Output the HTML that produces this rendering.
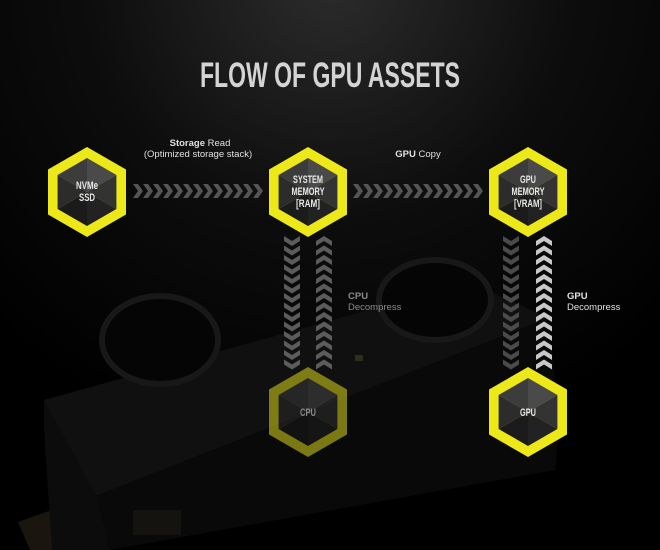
<!DOCTYPE html>
<html><head><meta charset="utf-8"><style>
html,body{margin:0;padding:0;background:#000;}
svg{display:block;}
</style></head><body>
<svg width="660" height="550" viewBox="0 0 660 550" xmlns="http://www.w3.org/2000/svg">
<defs>
<radialGradient id="bg" cx="330" cy="-20" r="480" gradientUnits="userSpaceOnUse">
<stop offset="0" stop-color="#2c2c2c"/><stop offset="0.5" stop-color="#0d0d0d"/><stop offset="1" stop-color="#000"/>
</radialGradient>
<linearGradient id="h1" x1="133" y1="0" x2="263" y2="0" gradientUnits="userSpaceOnUse"><stop offset="0" stop-color="#555"/><stop offset="1" stop-color="#b5b5b5"/></linearGradient>
<linearGradient id="h2" x1="353" y1="0" x2="483" y2="0" gradientUnits="userSpaceOnUse"><stop offset="0" stop-color="#555"/><stop offset="1" stop-color="#b5b5b5"/></linearGradient>
<linearGradient id="vd" x1="0" y1="235" x2="0" y2="367" gradientUnits="userSpaceOnUse"><stop offset="0" stop-color="#4a4a4a"/><stop offset="1" stop-color="#d0d0d0"/></linearGradient>
<linearGradient id="vu" x1="0" y1="235" x2="0" y2="367" gradientUnits="userSpaceOnUse"><stop offset="0" stop-color="#c8c8c8"/><stop offset="1" stop-color="#4a4a4a"/></linearGradient>
<polygon id="ch" points="0,0 5,0 10,7 5,14 0,14 5,7"/>
<polygon id="cd" points="0,0 8,5 16,0 16,5 8,10 0,5"/>
<polygon id="cu" points="0,5 8,0 16,5 16,10 8,5 0,10"/>
<g id="hex">
<polygon points="0,-45 39,-22.5 39,22.5 0,45 -39,22.5 -39,-22.5" fill="#ece81a"/>
<polygon points="0,0 0,-34 29.4,-17" fill="#4a4a4a"/>
<polygon points="0,0 0,-34 -29.4,-17" fill="#3c3c3c"/>
<polygon points="0,0 29.4,-17 29.4,17" fill="#333"/>
<polygon points="0,0 -29.4,-17 -29.4,17" fill="#2c2c2c"/>
<polygon points="0,0 29.4,17 0,34" fill="#222"/>
<polygon points="0,0 -29.4,17 0,34" fill="#1b1b1b"/>
</g>
</defs>
<rect width="660" height="550" fill="url(#bg)"/>

<!-- heatsink silhouette -->
<g>
<polygon points="18,522 80,500 95,550 30,550" fill="#1a160f"/>
<polygon points="44,400 470,282 548,318 96,496" fill="#101010"/>
<polygon points="96,496 548,318 560,420 555,470 110,550" fill="#090909"/>
<polygon points="44,400 96,496 110,550 52,550 44,430" fill="#0c0c0c"/>
<ellipse cx="160" cy="340" rx="58" ry="44" fill="#050505" stroke="#181818" stroke-width="6"/>
<ellipse cx="435" cy="300" rx="56" ry="40" fill="#050505" stroke="#181818" stroke-width="6"/>
<rect x="355" y="355" width="8" height="6" fill="#2e2e1a"/>
<rect x="133" y="510" width="48" height="25" fill="#15130f"/>
</g>

<text x="330" y="87" text-anchor="middle" font-family="'Liberation Sans Narrow','Liberation Sans',sans-serif" font-weight="bold" font-size="35" fill="#d4d4d4" textLength="260" lengthAdjust="spacingAndGlyphs">FLOW OF GPU ASSETS</text>

<g font-family="'Liberation Sans',sans-serif" font-size="9.5" fill="#e0e0e0" text-anchor="middle">
<text x="200" y="146"><tspan font-weight="bold">Storage</tspan> Read</text>
<text x="198" y="157">(Optimized storage stack)</text>
<text x="418" y="157"><tspan font-weight="bold">GPU</tspan> Copy</text>
</g>
<g font-family="'Liberation Sans',sans-serif" font-size="9.5">
<text x="348" y="299" fill="#8a8a8a" font-weight="bold">CPU</text>
<text x="348" y="310" fill="#8a8a8a">Decompress</text>
<text x="567" y="299" fill="#e0e0e0" font-weight="bold">GPU</text>
<text x="567" y="310" fill="#e0e0e0">Decompress</text>
</g>

<!-- horizontal chevrons -->
<g fill="url(#h1)" transform="translate(0,184)">
<use href="#ch" x="133"/><use href="#ch" x="143"/><use href="#ch" x="153"/><use href="#ch" x="163"/><use href="#ch" x="173"/><use href="#ch" x="183"/><use href="#ch" x="193"/><use href="#ch" x="203"/><use href="#ch" x="213"/><use href="#ch" x="223"/><use href="#ch" x="233"/><use href="#ch" x="243"/><use href="#ch" x="253"/>
</g>
<g fill="url(#h2)" transform="translate(0,184)">
<use href="#ch" x="353"/><use href="#ch" x="363"/><use href="#ch" x="373"/><use href="#ch" x="383"/><use href="#ch" x="393"/><use href="#ch" x="403"/><use href="#ch" x="413"/><use href="#ch" x="423"/><use href="#ch" x="433"/><use href="#ch" x="443"/><use href="#ch" x="453"/><use href="#ch" x="463"/><use href="#ch" x="473"/>
</g>

<!-- vertical chevrons -->
<g fill="#6a6a6a" opacity="0.85">
<g transform="translate(284,0)">
<use href="#cd" y="236"/><use href="#cd" y="245.5"/><use href="#cd" y="255"/><use href="#cd" y="264.5"/><use href="#cd" y="274"/><use href="#cd" y="283.5"/><use href="#cd" y="293"/><use href="#cd" y="302.5"/><use href="#cd" y="312"/><use href="#cd" y="321.5"/><use href="#cd" y="331"/><use href="#cd" y="340.5"/><use href="#cd" y="350"/><use href="#cd" y="359.5"/>
</g>
<g transform="translate(316,0)">
<use href="#cu" y="236"/><use href="#cu" y="245.5"/><use href="#cu" y="255"/><use href="#cu" y="264.5"/><use href="#cu" y="274"/><use href="#cu" y="283.5"/><use href="#cu" y="293"/><use href="#cu" y="302.5"/><use href="#cu" y="312"/><use href="#cu" y="321.5"/><use href="#cu" y="331"/><use href="#cu" y="340.5"/><use href="#cu" y="350"/><use href="#cu" y="359.5"/>
</g>
</g>
<g fill="url(#vd)">
<use href="#cd" x="503" y="236"/><use href="#cd" x="503" y="245.5"/><use href="#cd" x="503" y="255"/><use href="#cd" x="503" y="264.5"/><use href="#cd" x="503" y="274"/><use href="#cd" x="503" y="283.5"/><use href="#cd" x="503" y="293"/><use href="#cd" x="503" y="302.5"/><use href="#cd" x="503" y="312"/><use href="#cd" x="503" y="321.5"/><use href="#cd" x="503" y="331"/><use href="#cd" x="503" y="340.5"/><use href="#cd" x="503" y="350"/><use href="#cd" x="503" y="359.5"/>
</g>
<g fill="url(#vu)">
<use href="#cu" x="536" y="236"/><use href="#cu" x="536" y="245.5"/><use href="#cu" x="536" y="255"/><use href="#cu" x="536" y="264.5"/><use href="#cu" x="536" y="274"/><use href="#cu" x="536" y="283.5"/><use href="#cu" x="536" y="293"/><use href="#cu" x="536" y="302.5"/><use href="#cu" x="536" y="312"/><use href="#cu" x="536" y="321.5"/><use href="#cu" x="536" y="331"/><use href="#cu" x="536" y="340.5"/><use href="#cu" x="536" y="350"/><use href="#cu" x="536" y="359.5"/>
</g>

<!-- hexagons -->
<use href="#hex" x="87" y="192"/>
<use href="#hex" x="308" y="192"/>
<use href="#hex" x="528" y="192"/>
<use href="#hex" x="308" y="412" opacity="0.5"/>
<use href="#hex" x="528" y="412"/>

<g font-family="'Liberation Sans Narrow','Liberation Sans',sans-serif" font-weight="bold" font-size="11" fill="#e8e8e8" text-anchor="middle" lengthAdjust="spacingAndGlyphs">
<text x="87" y="189" textLength="22" lengthAdjust="spacingAndGlyphs">NVMe</text><text x="87" y="201" textLength="16" lengthAdjust="spacingAndGlyphs">SSD</text>
<text x="308" y="183" textLength="30" lengthAdjust="spacingAndGlyphs">SYSTEM</text><text x="308" y="195" textLength="33" lengthAdjust="spacingAndGlyphs">MEMORY</text><text x="308" y="207" textLength="24" lengthAdjust="spacingAndGlyphs">[RAM]</text>
<text x="528" y="183" textLength="16" lengthAdjust="spacingAndGlyphs">GPU</text><text x="528" y="195" textLength="33" lengthAdjust="spacingAndGlyphs">MEMORY</text><text x="528" y="207" textLength="28" lengthAdjust="spacingAndGlyphs">[VRAM]</text>
<text x="308" y="416" fill="#888" textLength="16" lengthAdjust="spacingAndGlyphs">CPU</text>
<text x="528" y="416" textLength="16" lengthAdjust="spacingAndGlyphs">GPU</text>
</g>
</svg>
</body></html>
